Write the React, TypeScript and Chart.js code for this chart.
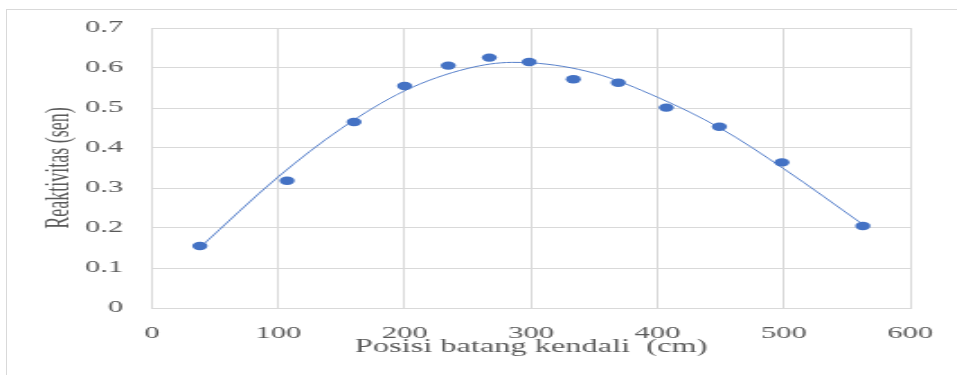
import React, { useEffect, useRef } from "react";
import { Chart, registerables } from "chart.js";

Chart.register(...registerables);

// Measured data points (Posisi batang kendali, Reaktivitas)
const posX = [38, 107, 160, 200, 234.5, 267, 298.5, 333.5, 369, 407, 449, 498.5, 562.5];
const reaktivitas = [0.155, 0.318, 0.465, 0.555, 0.606, 0.626, 0.615, 0.572, 0.563, 0.501, 0.453, 0.364, 0.205];

// Trendline
const trendX = [38, 100, 150, 200, 250, 285, 300, 350, 400, 450, 500, 562];
const trendY = [0.151, 0.328, 0.449, 0.543, 0.599, 0.614, 0.613, 0.587, 0.527, 0.449, 0.348, 0.21];

const xTicks = [0, 100, 200, 300, 400, 500, 600];
const yTicks = [0, 0.1, 0.2, 0.3, 0.4, 0.5, 0.6, 0.7];

const xTitle = "Posisi batang kendali  (cm)";
const yTitle = "Reaktivitas (sen)";

const W = 957;
const H = 375;
const STRETCH = 1.8;
const IW = Math.round(W / STRETCH);

export default function App() {
  const ref = useRef<HTMLCanvasElement | null>(null);

  useEffect(() => {
    const canvas = ref.current;
    if (!canvas) return;
    const font = "'Liberation Serif', 'Times New Roman', serif";
    const chart = new Chart(canvas, {
      type: "scatter",
      data: {
        datasets: [
          {
            label: "data",
            data: posX.map((x, i) => ({ x, y: reaktivitas[i] })),
            backgroundColor: "#4472C4",
            borderColor: "#4472C4",
            pointRadius: 4.2,
            pointBorderWidth: 0,
            showLine: false,
          },
          {
            label: "trend",
            data: trendX.map((x, i) => ({ x, y: trendY[i] })),
            borderColor: "#4472C4",
            borderWidth: 0.9,
            pointRadius: 0,
            showLine: true,
            cubicInterpolationMode: "monotone",
            fill: false,
          },
        ],
      },
      options: {
        responsive: false,
        animation: false,
        devicePixelRatio: 1,
        layout: { padding: { left: 0, right: 26, top: 28, bottom: 0 } },
        plugins: {
          legend: { display: false },
          tooltip: { enabled: false },
        },
        scales: {
          x: {
            type: "linear",
            min: 0,
            max: 600,
            afterFit: (s: any) => {
              s.height = 67;
              s.paddingLeft = 0;
              s.paddingRight = 0;
            },
            afterBuildTicks: (s: any) => {
              s.ticks = xTicks.map((v) => ({ value: v }));
            },
            grid: { color: "#d9d9d9", lineWidth: 1, drawTicks: false },
            border: { color: "#d9d9d9", width: 1 },
            ticks: {
              padding: 15.5,
              color: "#595959",
              font: { family: font, size: 17 },
              maxRotation: 0,
            },
            title: {
              display: true,
              text: xTitle,
              color: "#595959",
              font: { family: font, size: 18 },
              padding: { top: 0, bottom: 17 },
            },
          },
          y: {
            type: "linear",
            min: 0,
            max: 0.7,
            afterFit: (s: any) => {
              s.width = 84.4;
              s.paddingTop = 0;
              s.paddingBottom = 0;
            },
            afterBuildTicks: (s: any) => {
              s.ticks = yTicks.map((v) => ({ value: v }));
            },
            grid: { color: "#d9d9d9", lineWidth: 1, drawTicks: false },
            border: { color: "#d9d9d9", width: 1 },
            ticks: {
              padding: 16,
              color: "#595959",
              font: { family: font, size: 17 },
              callback: (v: any) => String(Number(Number(v).toFixed(1))),
            },
            title: {
              display: true,
              text: yTitle,
              color: "#595959",
              font: { family: font, size: 18 },
              padding: { top: 22, bottom: 0 },
            },
          },
        },
      },
    } as any);
    return () => chart.destroy();
  }, []);

  return (
    <div
      style={{
        position: "absolute",
        left: 0,
        top: 0,
        width: W,
        height: H,
        overflow: "hidden",
        background: "#ffffff",
      }}
    >
      <div
        style={{
          position: "absolute",
          left: 6,
          top: 9,
          width: 1200,
          height: 1200,
          border: "1px solid #d9d9d9",
          boxSizing: "border-box",
        }}
      />
      <canvas
        ref={ref}
        width={IW}
        height={H}
        style={{
          position: "absolute",
          left: 0,
          top: 0,
          width: IW,
          height: H,
          transform: `scaleX(${W / IW})`,
          transformOrigin: "0 0",
        }}
      />
    </div>
  );
}
